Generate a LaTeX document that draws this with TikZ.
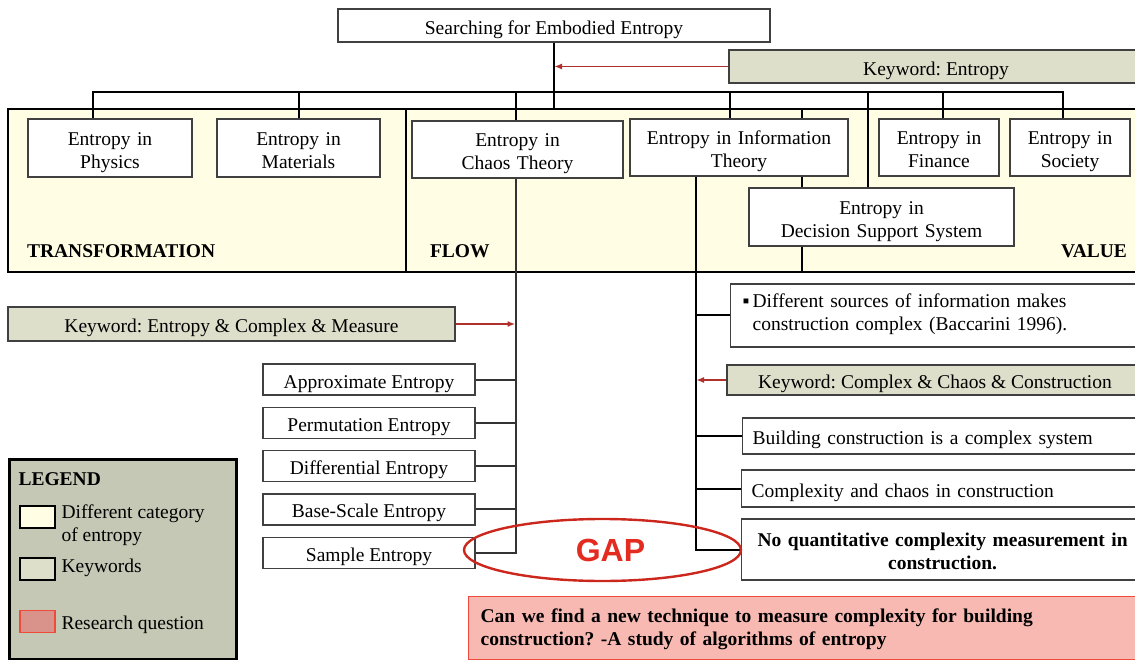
\documentclass[tikz,border=0pt]{standalone}
\usepackage{fontspec}
\setmainfont{Liberation Serif}
\newfontfamily\gapfont{Liberation Sans}
\usetikzlibrary{positioning}
\usetikzlibrary{shapes,arrows.meta}
\frenchspacing
\newcommand{\entfont}{\fontsize{19.5}{23}\selectfont}
\newcommand{\entstrut}{\rule[-4.2pt]{0pt}{25.6pt}}
\newcommand{\deepstrut}[1]{\rule[-#1]{0pt}{0pt}}
\definecolor{bandyellow}{HTML}{FFFDE3}
\definecolor{keygrey}{HTML}{DDDFCB}
\definecolor{legendgrey}{HTML}{C5C8B5}
\definecolor{questionpink}{HTML}{F8B9B3}
\definecolor{questionred}{HTML}{EE4B3B}
\definecolor{swatchred}{HTML}{D9938A}
\definecolor{arrowred}{HTML}{B0302C}
\definecolor{gapred}{HTML}{E32B20}
\tikzstyle{category}=[
  draw=black!75,
  fill=white,
  line width=1.3pt,
  inner sep=0pt,
  align=center,
  minimum height=57pt,
  execute at begin node=\entstrut,
  execute at end node={\deepstrut{4.2pt}}
]
\tikzstyle{keyword}=[
  draw=black!75,
  fill=keygrey,
  line width=1.3pt,
  inner sep=0pt,
  align=center,
  execute at begin node=\entstrut,
  execute at end node={\deepstrut{4.2pt}}
]
\tikzstyle{method}=[category,minimum width=212pt,minimum height=31pt]
\tikzstyle{finding}=[
  draw=black!75,
  fill=white,
  line width=1.3pt,
  anchor=west,
  align=left,
  inner xsep=10pt,
  inner ysep=0pt,
  text width=381pt,
  execute at begin node=\entstrut,
  execute at end node={\deepstrut{4.2pt}}
]
\tikzstyle{link}=[draw=black,line width=2pt]
\tikzstyle{swatch}=[draw=black,line width=1.5pt,minimum width=35pt,minimum height=22pt,inner sep=0pt]

\begin{document}
\begin{tikzpicture}[x=1pt,y=-1pt,node distance=11pt and 8pt,font=\entfont]
    \useasboundingbox (0,0) rectangle (1135,660);
    \draw[fill=bandyellow,line width=2pt] (8,109) rectangle (1150,272);
    \draw[line width=2pt] (406,109) -- (406,272);
    \draw[line width=2pt] (802,109) -- (802,272);
    \coordinate (bandtop) at (8,109);
    \coordinate (hub) at (553,92.5);
    \node[font=\entfont\bfseries,anchor=west] (transformation) at (23.5,251) {TRANSFORMATION};
    \node[font=\entfont\bfseries,anchor=west] (flow) at (426.5,251) {FLOW};
    \node[font=\entfont\bfseries,anchor=east] (value) at (1130.5,251) {VALUE};

    \node[category,minimum width=432pt,minimum height=33pt] (search) at (554,25.5) {Searching for Embodied Entropy};
    \node[keyword,minimum width=414pt,minimum height=33pt] (kwentropy) at (936,66.5) {Keyword: Entropy};
    \node[category,text width=164pt,minimum height=58pt] (physics) at (110,148) {Entropy in\\Physics};
    \node[category,text width=163pt,minimum height=58pt] (materials) at (298.5,148) {Entropy in\\Materials};
    \node[category,text width=211pt] (chaos) at (517.5,149.5) {Entropy in\\Chaos Theory};
    \node[category,text width=218pt] (info) at (739,147.5) {Entropy in Information\\Theory};
    \node[category,text width=120pt] (finance) at (939,147.5) {Entropy in\\Finance};
    \node[category,text width=120pt] (society) at (1070,147.5) {Entropy in\\Society};
    \node[category,text width=265pt,minimum height=58pt] (dss) at (881.5,217) {Entropy in\\Decision Support System};

    \node[keyword,minimum width=447pt,minimum height=34pt] (kwmeasure) at (231.5,324) {Keyword: Entropy \& Complex \& Measure};
    \node[method] (approx) at (369,379.5) {Approximate Entropy};
    \node[method,below=of approx] (permutation) {Permutation Entropy};
    \node[method,below=of permutation] (differential) {Differential Entropy};
    \node[method,below=of differential] (basescale) {Base-Scale Entropy};
    \node[method,below=of basescale] (sample) {Sample Entropy};

    \node[finding,inner xsep=22pt,text width=371pt,minimum height=63pt,execute at end node={\deepstrut{14.6pt}}] (sources) at (730,315.5) {\llap{▪\hspace{3pt}}Different sources of information makes\\construction complex (Baccarini 1996).};
    \node[keyword,minimum width=416pt,minimum height=30pt] (kwchaos) at (935,380) {Keyword: Complex \& Chaos \& Construction};
    \node[finding,minimum height=36pt] (building) at (742,436) {Building construction is a complex system};
    \node[finding,minimum height=37pt] (complexity) at (741,488.5) {Complexity and chaos in construction};
    \node[finding,inner xsep=6pt,text width=390pt,minimum height=61pt,align=center,font=\entfont\bfseries] (noquant) at (741,549.5) {No quantitative complexity measurement in\\construction.};
    \node[draw=questionred,fill=questionpink,line width=1.3pt,anchor=north west,align=left,text width=660pt,inner xsep=12pt,inner ysep=0pt,minimum height=63pt,font=\entfont\bfseries,execute at begin node=\entstrut,execute at end node={\deepstrut{10.2pt}}] (question) at (468,596) {Can we find a new technique to measure complexity for building\\construction? -A study of algorithms of entropy};

    \draw[link] (search.south) -- (search.south |- bandtop);
    \draw[link] ([xshift=-17pt]physics.north) |- (hub);
    \draw[link] (materials.north) |- (hub);
    \draw[link] ([xshift=-2pt]chaos.north) |- (hub);
    \draw[link] ([xshift=-9pt]info.north) |- (hub);
    \draw[link] ([xshift=-14pt]dss.north) |- (hub);
    \draw[link] ([xshift=4pt]finance.north) |- (hub);
    \draw[link] ([xshift=-7pt]society.north) |- (hub);

    \coordinate (chaosdrop) at ([xshift=-2pt]chaos.south);
    \draw[link,draw=black!80] (chaosdrop) |- (sample.east);
    \foreach \m in {approx,permutation,differential,basescale}
      \draw[link,draw=black!80] (\m.east) -- (\m.east -| chaosdrop);
    \coordinate (infodrop) at ([xshift=-43pt]info.south);
    \draw[link] (infodrop) |- (noquant.west);
    \foreach \f in {sources,building,complexity}
      \draw[link] (\f.west) -- (\f.west -| infodrop);

    \draw[>={Latex[length=8pt,width=6pt]},->,draw=arrowred,line width=1.6pt] (kwentropy.west) -- (kwentropy.west -| search.south);
    \draw[>={Latex[length=8pt,width=6pt]},->,draw=arrowred,line width=1.6pt] (kwmeasure.east) -- (kwmeasure.east -| chaosdrop);
    \draw[>={Latex[length=8pt,width=6pt]},->,draw=arrowred,line width=1.6pt] (kwchaos.west) -- (kwchaos.west -| infodrop);

    \node[ellipse,draw=gapred!90!black,line width=2.4pt,minimum width=277pt,minimum height=62pt,text=gapred,font=\gapfont\bfseries\fontsize{32}{36}\selectfont] (gap) at (602.5,550) {\hspace*{16pt}GAP};

    \node[draw,line width=3pt,fill=legendgrey,minimum width=227pt,minimum height=200pt,anchor=north west] (legend) at (8,458) {};
    \node[font=\entfont\bfseries,anchor=west] (legendtitle) at (15,479) {LEGEND};
    \node[swatch,fill=bandyellow] (swcategory) at (37.5,517) {};
    \node[anchor=west,align=left] (txtcategory) at (58,525) {Different category\\of entropy};
    \node[swatch,fill=keygrey] (swkeyword) at (37.5,569) {};
    \node[anchor=west] (txtkeyword) at (58,567.5) {Keywords};
    \node[swatch,fill=swatchred,draw=questionred] (swquestion) at (37.5,621.5) {};
    \node[anchor=west] (txtquestion) at (58,624.5) {Research question};
  \end{tikzpicture}
\end{document}
